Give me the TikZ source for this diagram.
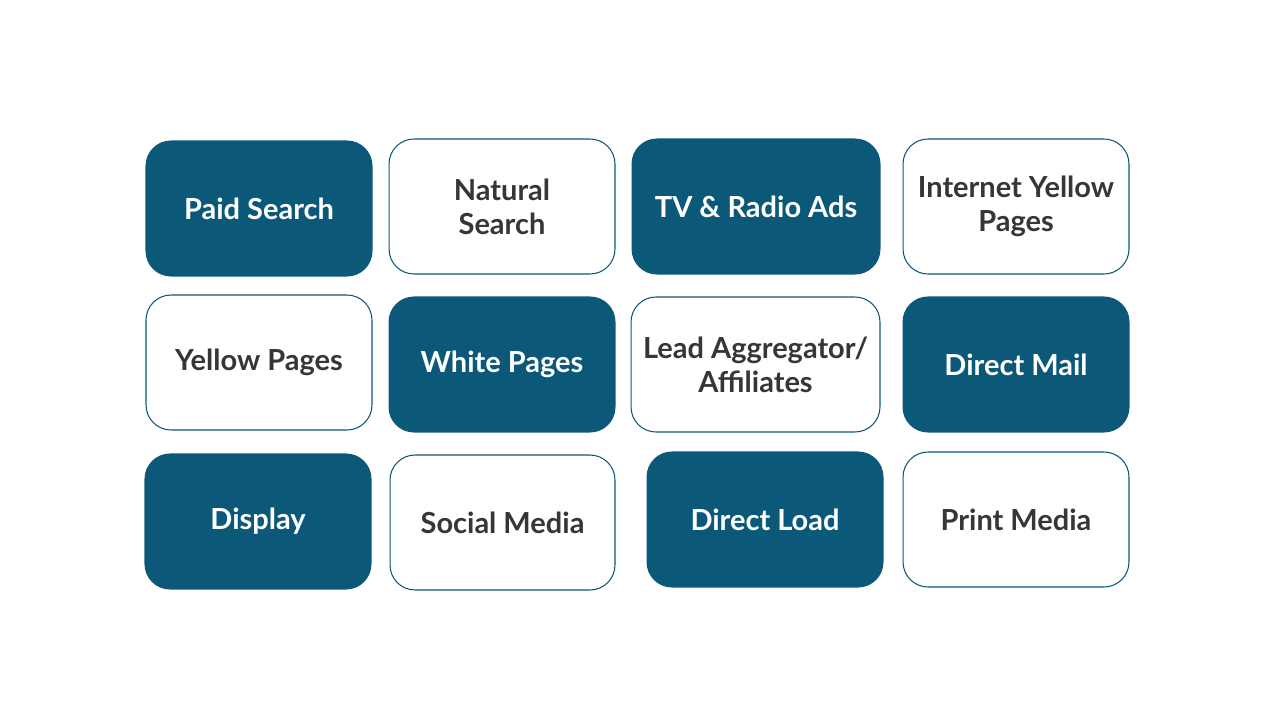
\documentclass[tikz,border=0pt]{standalone}
\usepackage{fontspec}
\setmainfont{Lato}
\usepackage{xcolor}
\definecolor{tileblue}{HTML}{0C5879}
\definecolor{tiletext}{HTML}{363636}

\tikzset{
  tile/.style={rounded corners=0.5cm,draw=tileblue,line width=0.6pt,
    minimum width=4.52cm,minimum height=2.7cm,align=center,
    font=\fontsize{16.5}{19.5}\selectfont\bfseries},
  darktile/.style={tile,fill=tileblue,text=white},
  lighttile/.style={tile,fill=white,text=tiletext}
}

\begin{document}
\begin{tikzpicture}[x=0.02cm,y=-0.02cm]

\useasboundingbox (0,0) rectangle (1280,720);

% first row
\node[darktile]  (paid)     at (259,208.5) {Paid Search};
\node[lighttile] (natural)  at (502,206.5) {Natural\\Search};
\node[darktile,minimum width=4.96cm] (tvradio) at (756,206.5) {TV \& Radio Ads};
\node[lighttile] (internet) at (1016,206.5) {Internet Yellow\\Pages};

% second row
\node[lighttile] (yellow)   at (259,362.5) {Yellow Pages};
\node[darktile]  (white)    at (502,364.5) {White Pages};
\node[lighttile,minimum width=4.98cm] (lead) at (755.5,364.5) {Lead Aggregator/\\Affiliates};
\node[darktile]  (mail)     at (1016,364.5) {Direct Mail};

% third row
\node[darktile]  (display)  at (258,521.5) {Display};
\node[lighttile,minimum width=4.5cm] (social) at (502.5,522.5) {Social Media};
\node[darktile,minimum width=4.72cm] (load) at (765,519.5) {Direct Load};
\node[lighttile] (print)    at (1016,519.5) {Print Media};

\end{tikzpicture}
\end{document}
